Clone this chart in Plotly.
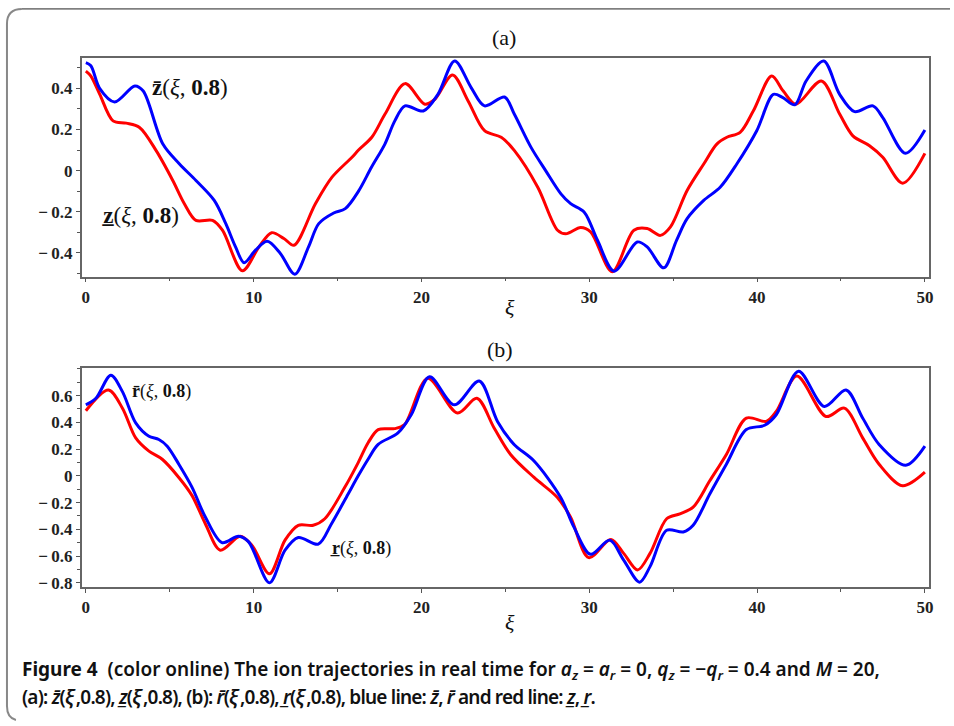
import plotly.graph_objects as go

W, H = 954, 726

# ---------------- data ----------------
# panel (a): z-bar (blue) and z-underline (red)
za_blue_x = [0, 0.3, 0.82, 1.71, 2.92, 3.42, 4.59, 5.58, 6.56, 7.65, 8.34, 8.92, 9.43, 10.11, 10.81,
             11.59, 12.45, 13.27, 13.88, 14.77, 15.46, 16.25, 17.02, 17.82, 18.41, 19.02, 20.11, 20.98,
             21.98, 22.96, 23.76, 24.95, 25.53, 26.53, 27.4, 28.31, 28.89, 29.7, 30.49, 31.48, 32.86,
             33.45, 34.44, 35.2, 35.83, 36.82, 37.8, 38.79, 39.98, 40.97, 41.54, 42.25, 42.92, 43.97,
             44.92, 45.81, 46.9, 47.49, 48.84, 50.0]
za_blue_y = [0.525, 0.51, 0.40, 0.334, 0.412, 0.387, 0.129, 0.032, -0.048, -0.145, -0.258, -0.371, -0.448,
             -0.387, -0.344, -0.403, -0.504, -0.371, -0.258, -0.206, -0.185, -0.10, 0.016, 0.129, 0.242,
             0.315, 0.29, 0.371, 0.533, 0.404, 0.315, 0.358, 0.275, 0.113, 0.0, -0.113, -0.161, -0.202,
             -0.339, -0.489, -0.347, -0.371, -0.473, -0.339, -0.234, -0.145, -0.081, 0.032, 0.194, 0.371,
             0.355, 0.32, 0.436, 0.533, 0.371, 0.287, 0.315, 0.258, 0.084, 0.197]

za_red_x = [0, 0.3, 0.83, 1.62, 2.41, 3.2, 4.19, 5.18, 5.87, 6.56, 7.55, 8.14, 9.33, 10.32, 11.07, 11.8,
            12.4, 13.68, 14.67, 15.86, 16.25, 17.04, 17.83, 19.02, 20.2, 20.8, 21.85, 22.78, 23.76, 24.75,
            25.54, 26.93, 28.11, 28.6, 29.49, 30.08, 31.37, 32.66, 33.45, 34.24, 34.84, 35.83, 36.82, 37.6,
            38.2, 38.99, 39.78, 40.87, 41.56, 42.31, 43.83, 44.92, 45.71, 46.7, 47.49, 48.68, 50.0]
za_red_y = [0.484, 0.46, 0.371, 0.242, 0.231, 0.21, 0.097, -0.048, -0.161, -0.242, -0.242, -0.29, -0.487,
            -0.371, -0.302, -0.33, -0.363, -0.161, -0.032, 0.065, 0.10, 0.162, 0.275, 0.423, 0.323, 0.347,
            0.465, 0.339, 0.194, 0.162, 0.097, -0.081, -0.29, -0.307, -0.277, -0.298, -0.492, -0.29, -0.282,
            -0.315, -0.274, -0.097, 0.032, 0.129, 0.162, 0.186, 0.291, 0.46, 0.387, 0.323, 0.436, 0.275,
            0.169, 0.121, 0.065, -0.061, 0.084]

# panel (b): r-bar (blue) and r-underline (red)
rb_blue_x = [0, 0.6, 1.49, 2.18, 2.97, 3.76, 4.35, 4.85, 5.54, 6.33, 7.12, 8.11, 9.1, 9.7, 10.94, 11.87,
             12.66, 13.85, 14.64, 15.63, 16.23, 16.82, 17.42, 18.6, 19.39, 20.48, 21.96, 23.44, 24.53, 25.52,
             26.71, 28.29, 29.08, 30.07, 31.22, 32.05, 33.0, 33.62, 34.61, 35.6, 36.19, 37.18, 38.17, 39.36,
             40.45, 41.14, 42.47, 44.01, 45.3, 46.29, 47.27, 48.86, 50.0]
rb_blue_y = [0.531, 0.58, 0.753, 0.63, 0.396, 0.296, 0.272, 0.222, 0.087, -0.086, -0.308, -0.499, -0.452,
             -0.494, -0.80, -0.556, -0.461, -0.511, -0.358, -0.136, 0.0, 0.124, 0.235, 0.321, 0.457, 0.741,
             0.531, 0.709, 0.407, 0.235, 0.111, -0.16, -0.382, -0.587, -0.481, -0.63, -0.795, -0.679, -0.407,
             -0.42, -0.37, -0.136, 0.087, 0.346, 0.378, 0.457, 0.783, 0.519, 0.642, 0.432, 0.235, 0.079, 0.222]

rb_red_x = [0, 1.35, 2.18, 2.97, 3.76, 4.55, 5.54, 6.33, 7.12, 8.01, 9.2, 9.89, 10.94, 11.87, 12.66, 13.55,
            14.24, 15.43, 16.23, 16.82, 17.42, 18.4, 18.99, 20.37, 22.15, 23.3, 24.33, 25.31, 26.71, 28.09,
            28.88, 29.97, 31.29, 32.05, 32.88, 33.62, 34.61, 35.4, 36.19, 37.18, 38.17, 39.36, 40.55, 41.14,
            42.37, 44.11, 45.2, 46.29, 47.27, 48.67, 50.0]
rb_red_y = [0.487, 0.642, 0.506, 0.284, 0.185, 0.124, -0.012, -0.148, -0.358, -0.556, -0.452, -0.519,
            -0.733, -0.481, -0.37, -0.37, -0.321, -0.086, 0.099, 0.247, 0.346, 0.353, 0.383, 0.729, 0.47,
            0.58, 0.358, 0.16, -0.012, -0.16, -0.308, -0.612, -0.476, -0.58, -0.704, -0.58, -0.321, -0.284,
            -0.234, -0.037, 0.16, 0.432, 0.407, 0.481, 0.746, 0.444, 0.506, 0.284, 0.087, -0.074, 0.027]

x_tickvals = [0, 10, 20, 30, 40, 50]
x_ticktext = ["0", "10", "20", "30", "40", "50"]
ya_tickvals = [-0.4, -0.2, 0, 0.2, 0.4]
ya_ticktext = ["\u2212\u20090.4", "\u2212\u20090.2", "0", "0.2", "0.4"]
yb_tickvals = [-0.8, -0.6, -0.4, -0.2, 0, 0.2, 0.4, 0.6]
yb_ticktext = ["\u2212\u20090.8", "\u2212\u20090.6", "\u2212\u20090.4", "\u2212\u20090.2", "0", "0.2", "0.4", "0.6"]

BLUE = "#0000ff"
RED = "#ff0000"

# ---------------- figure ----------------
fig = go.Figure()

def px_x(p):
    return p / W

def px_y(p):
    return 1 - p / H

for xs, ys, col, xa, ya in [(za_red_x, za_red_y, RED, "x", "y"),
                            (za_blue_x, za_blue_y, BLUE, "x", "y"),
                            (rb_red_x, rb_red_y, RED, "x2", "y2"),
                            (rb_blue_x, rb_blue_y, BLUE, "x2", "y2")]:
    fig.add_trace(go.Scatter(x=xs, y=ys, mode="lines", xaxis=xa, yaxis=ya, showlegend=False,
                             hoverinfo="skip",
                             line=dict(color=col, width=3, shape="spline", smoothing=0.9)))

tickfont = dict(family="Liberation Serif", size=17, color="#222", weight="bold")
axis_common = dict(showline=True, mirror=True, linecolor="#666", linewidth=1.5, showgrid=False,
                   zeroline=False, ticks="outside", ticklen=4, tickwidth=1, tickcolor="#555",
                   tickfont=tickfont, tickmode="array")
minor_x = dict(dtick=5, tick0=0, ticks="outside", ticklen=3, tickcolor="#555")
minor_y = dict(dtick=0.1, tick0=0, ticks="outside", ticklen=3, tickcolor="#555")

xdom = [px_x(82), px_x(933)]
fig.update_layout(
    width=W, height=H, margin=dict(l=0, r=0, t=0, b=0),
    paper_bgcolor="white", plot_bgcolor="white",
    xaxis=dict(domain=xdom, range=[-0.25, 50.25], tickvals=x_tickvals, ticktext=x_ticktext,
               anchor="y", minor=minor_x, **axis_common),
    yaxis=dict(domain=[px_y(279), px_y(58)], range=[-0.516, 0.55], tickvals=ya_tickvals,
               ticktext=ya_ticktext, anchor="x", minor=minor_y, **axis_common),
    xaxis2=dict(domain=xdom, range=[-0.25, 50.25], tickvals=x_tickvals, ticktext=x_ticktext,
                anchor="y2", minor=minor_x, **axis_common),
    yaxis2=dict(domain=[px_y(591.7), px_y(371)], range=[-0.83, 0.807], tickvals=yb_tickvals,
                ticktext=yb_ticktext, anchor="x2", minor=minor_y, **axis_common),
)

serif = "Liberation Serif"
ann = []
# panel titles
ann.append(dict(x=px_x(506), y=px_y(38), text="(a)", font=dict(family=serif, size=22, color="#111")))
ann.append(dict(x=px_x(502), y=px_y(352), text="(b)", font=dict(family=serif, size=22, color="#111")))
# axis titles
ann.append(dict(x=px_x(512), y=px_y(310), text="<i>ξ</i>", font=dict(family=serif, size=22, color="#111")))
ann.append(dict(x=px_x(512), y=px_y(628), text="<i>ξ</i>", font=dict(family=serif, size=22, color="#111")))
# curve labels
ann.append(dict(x=px_x(151), y=px_y(88), xanchor="left",
                text="<b>z\u0304</b>(<i>ξ</i>, <b>0.8</b>)", font=dict(family=serif, size=23, color="#111")))
ann.append(dict(x=px_x(100), y=px_y(217), xanchor="left",
                text="<b>z\u0332</b>(<i>ξ</i>, <b>0.8</b>)", font=dict(family=serif, size=23, color="#111")))
ann.append(dict(x=px_x(131), y=px_y(395), xanchor="left",
                text="<b>r\u0304</b>(<i>ξ</i>, <b>0.8</b>)", font=dict(family=serif, size=18, color="#111")))
ann.append(dict(x=px_x(329), y=px_y(553), xanchor="left",
                text="<b>r\u0332</b>(<i>ξ</i>, <b>0.8</b>)", font=dict(family=serif, size=18, color="#111")))
# caption
cap1 = ("<b>Figure 4</b>  (color online) The ion trajectories in real time for "
        "<i>a<sub>z</sub></i> = <i>a<sub>r</sub></i> = 0, <i>q<sub>z</sub></i> = \u2212<i>q<sub>r</sub></i> = 0.4 "
        "and <i>M</i> = 20,")
cap2 = ("<span style=\"letter-spacing:-0.8px\">(a): <i>z\u0304</i>(<i>ξ</i>\u2009,0.8), "
        "<i>z\u0332</i>(<i>ξ</i>\u2009,0.8), (b): "
        "<i>r\u0304</i>(<i>ξ</i>\u2009,0.8), <i>r\u0332</i>(<i>ξ</i>\u2009,0.8), blue line: "
        "<i>z\u0304</i>, <i>r\u0304</i> and red line: <i>z\u0332</i>, <i>r\u0332</i>.</span>")
capfont = dict(family="Noto Sans", size=19, color="#111", weight=600)
ann.append(dict(x=px_x(20), y=px_y(676), xanchor="left", text=cap1, font=capfont))
ann.append(dict(x=px_x(20), y=px_y(703), xanchor="left", text=cap2, font=capfont))

for a in ann:
    a.update(xref="paper", yref="paper", showarrow=False, yanchor="middle")
    fig.add_annotation(**a)

# outer rounded frame
fig.add_shape(type="line", xref="paper", yref="paper", x0=px_x(22), x1=1.0, y0=px_y(9), y1=px_y(9),
              line=dict(color="#222", width=1))
fig.add_shape(type="path", xref="paper", yref="paper",
              path=f"M {px_x(22)},{px_y(9)} Q {px_x(7)},{px_y(9)} {px_x(7)},{px_y(24)} L {px_x(7)},{px_y(712)} "
                   f"Q {px_x(7)},{px_y(724)} {px_x(16)},{px_y(726)}",
              line=dict(color="#888", width=2))

fig.write_html("out.html", config={"displayModeBar": False},
               post_script="document.body.style.margin='0';document.body.style.overflow='hidden';")
